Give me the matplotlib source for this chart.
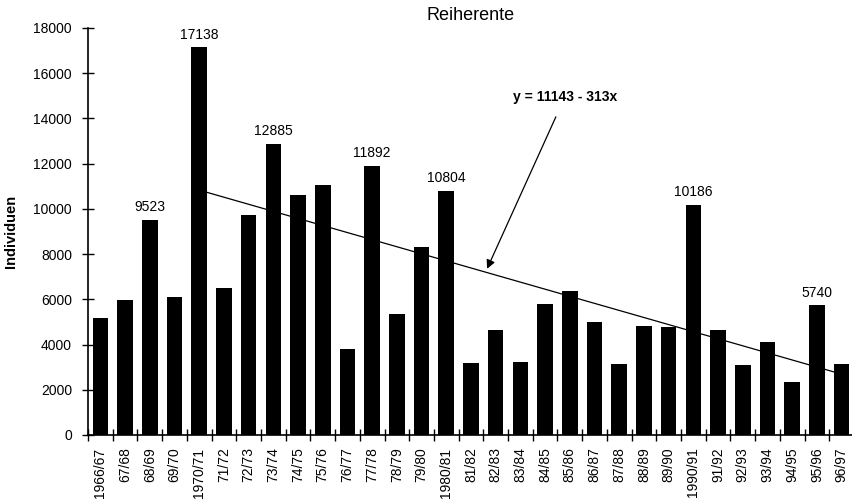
from matplotlib import pyplot as plt

plt.rcParams['font.family'] = ['Liberation Sans', 'DejaVu Sans']

seasons = ['1966/67', '67/68', '68/69', '69/70', '1970/71', '71/72', '72/73',
           '73/74', '74/75', '75/76', '76/77', '77/78', '78/79', '79/80',
           '1980/81', '81/82', '82/83', '83/84', '84/85', '85/86', '86/87',
           '87/88', '88/89', '89/90', '1990/91', '91/92', '92/93', '93/94',
           '94/95', '95/96', '96/97']
counts = [5160, 5980, 9523, 6090, 17138, 6480, 9730, 12885, 10620, 11060,
          3820, 11892, 5370, 8300, 10804, 3170, 4640, 3210, 5790, 6350,
          4980, 3160, 4810, 4790, 10186, 4660, 3100, 4100, 2340, 5740, 3160]
labelled = [9523, 17138, 12885, 11892, 10804, 10186, 5740]

# trend line y = 11143 - 313x, x = 1 at 1970/71
a, b = 11143, -313
start = seasons.index('1970/71')
trend_x = [start, len(seasons) - 1]
trend_y = [a + b * (i - start + 1) for i in trend_x]

fig = plt.figure(figsize=(8.52, 5), dpi=100)
ax = fig.add_axes([0.1033, 0.13, 0.899, 0.814])

xs = list(range(len(seasons)))
ax.plot(trend_x, trend_y, color='black', linewidth=0.9, zorder=1)
ax.bar(xs, counts, width=0.63, color='black', zorder=2)

for x, v in zip(xs, counts):
    if v in labelled:
        ax.text(x, v + 250, str(v), ha='center', va='bottom', fontsize=10)

ax.set_xlim(-0.5, len(seasons) - 0.5)
ax.set_ylim(0, 18000)
ax.set_yticks(range(0, 18001, 2000))
ax.tick_params(axis='y', direction='inout', length=9, width=1, labelsize=10, pad=7)

# tick marks between bars, labels under the bars
ax.set_xticks([i - 0.5 for i in range(len(seasons) + 1)])
ax.set_xticklabels([])
ax.set_xticks(xs, minor=True)
ax.set_xticklabels(seasons, minor=True, rotation=90, fontsize=10)
ax.tick_params(axis='x', which='major', direction='inout', length=9, width=1)
ax.tick_params(axis='x', which='minor', length=0, pad=9)

ax.spines['top'].set_visible(False)
ax.spines['right'].set_visible(False)
ax.spines['left'].set_linewidth(1.2)
ax.spines['bottom'].set_linewidth(1.2)

ax.set_ylabel('Individuen', fontsize=10.5, fontweight='bold', labelpad=11)
ax.set_title('Reiherente', fontsize=13, pad=6)

ax.annotate('y = 11143 - 313x', xy=(15.65, 7350), xytext=(18.8, 14950),
            ha='center', va='center', fontsize=10, fontweight='bold',
            arrowprops=dict(arrowstyle='-|>', color='black', lw=0.9,
                            shrinkA=8, shrinkB=0, mutation_scale=13))

fig.savefig('out.png', dpi=100)
